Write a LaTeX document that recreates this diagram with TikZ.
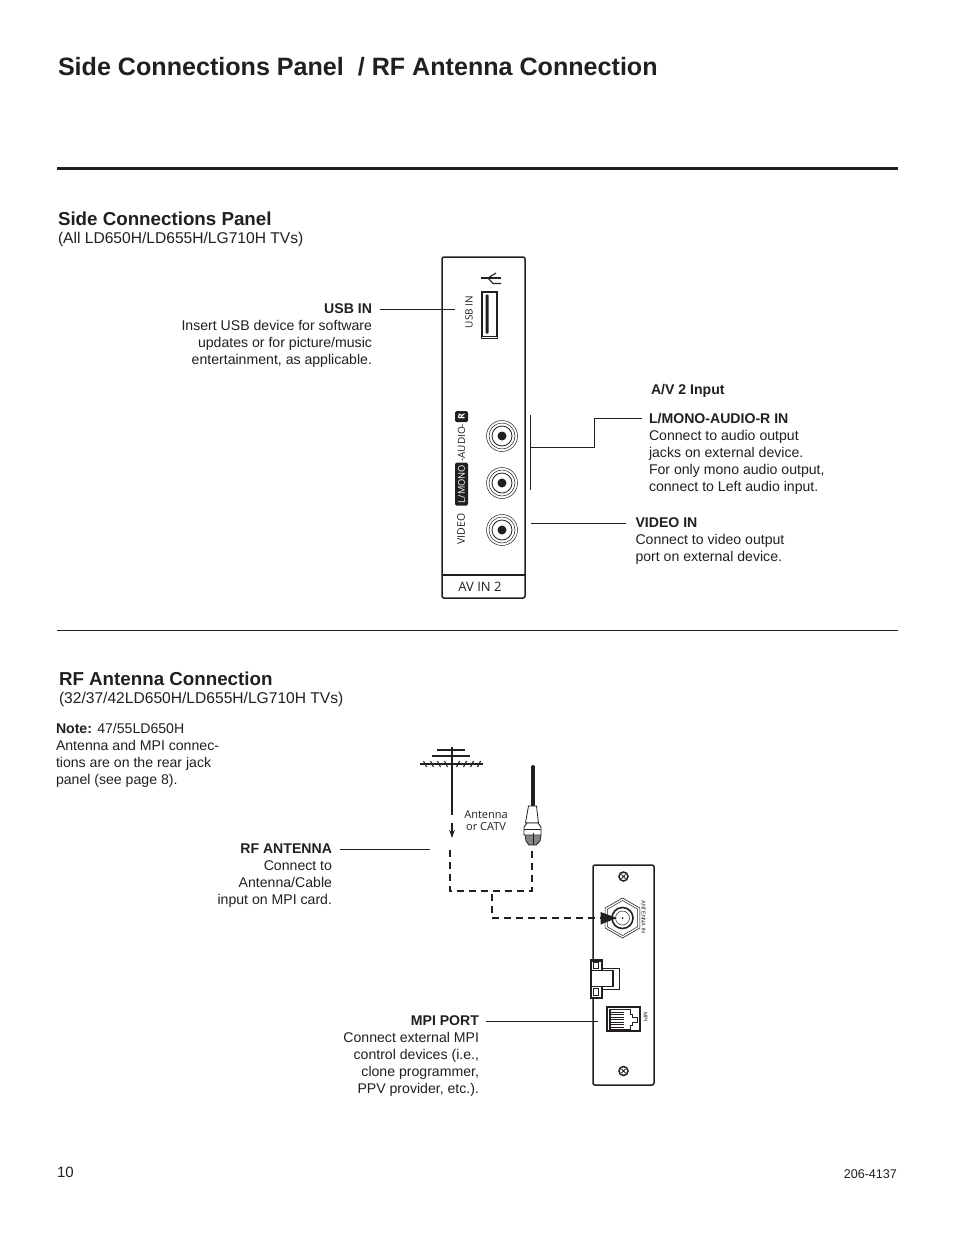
\documentclass[tikz,border=0pt]{standalone}
\usepackage{fontspec}
\setmainfont{Liberation Sans}
\newfontfamily\hum{Open Sans}
\usetikzlibrary{arrows.meta,shapes.geometric}
\definecolor{ink}{HTML}{231F20}
\newcommand{\fs}[1]{\fontsize{#1}{17}\selectfont}
\tikzset{
  x=1pt,y=-1pt,
  every path/.style={color=ink},
  txt/.style={inner sep=0,outer sep=0,text=ink,font=\fs{14.1}},
  rt/.style={txt,align=right,anchor=east},
  lf/.style={txt,align=left,anchor=west},
  head/.style={txt,anchor=west,font=\fs{18.75}\bfseries},
  subhead/.style={txt,anchor=base west,font=\fs{15.6}},
  lead/.style={draw=ink,line width=0.8pt},
  box/.style={draw=ink,line width=1.5pt},
  cable/.style={draw=ink,line width=1.8pt,dash pattern=on 7pt off 5pt},
  micro/.style={inner sep=0,text=ink,font=\hum\fontsize{10}{10}\selectfont},
}
\begin{document}
\begin{tikzpicture}
\useasboundingbox (0,0) rectangle (954,1235);
\fill[white] (0,0) rectangle (954,1235);
\node[txt,anchor=base west,font=\fs{25.1}\bfseries] (title) at (58,75.5) {Side Connections Panel\ \ / RF Antenna Connection};
\draw[draw=ink,line width=3pt] (57,168.5) -- (898,168.5);
\draw[draw=ink,line width=1pt] (57,630.5) -- (898,630.5);

\node[head] (h1) at (58,219) {Side Connections Panel};
\node[subhead] (h1s) at (58,243.5) {(All LD650H/LD655H/LG710H TVs)};
\node[rt] (usb) at (372,335.5) {\textbf{USB IN}\\Insert USB device for software\\updates or for picture/music\\entertainment, as applicable.};
\node[lf] (avh) at (651,391) {\textbf{A/V 2 Input}};
\node[lf] (lmono) at (649,454) {\textbf{L/MONO-AUDIO-R IN}\\Connect to audio output\\jacks on external device.\\For only mono audio output,\\connect to Left audio input.};
\node[lf] (vid) at (635.5,541.5) {\textbf{VIDEO IN}\\Connect to video output\\port on external device.};

% side panel
\draw[box,rounded corners=2pt] (442,257) rectangle (525,598);
\draw[box] (442,575) -- (525,575);
\node[micro,font=\hum\fontsize{13}{13}\selectfont] (avin) at (480,586.5) {AV IN 2};
\node[micro,rotate=90] (usbt) at (469,312) {USB IN};
\draw[draw=ink,line width=0.9pt] (481,291) rectangle (497.5,338);
\draw[draw=ink,line width=0.5pt] (482.5,292.5) rectangle (496,336.5);
\fill[ink,rounded corners=0.8pt] (485.5,294.5) rectangle (488.5,333.5);
% usb symbol
\draw[draw=ink,line width=1.1pt] (481,278) -- (501,278);
\draw[draw=ink,line width=1.1pt] (496,273) -- (488,278) -- (493,283.5) -- (501,283.5);
% jack labels
\node[micro,rotate=90,font=\hum\fontsize{10.5}{10.5}\selectfont] (videot) at (461,529) {VIDEO};
\node[micro,rotate=90,fill=ink,text=white,rounded corners=1.5pt,minimum height=13pt,minimum width=43pt,inner sep=0,font=\hum\fontsize{9.3}{9.3}\selectfont] (mono) at (461.5,484) {L/MONO};
\node[micro,rotate=90,anchor=west] (audio) at (461.5,462) {-AUDIO-};
\node[micro,rotate=90,fill=ink,text=white,rounded corners=1.5pt,minimum height=13pt,minimum width=11pt,inner sep=0,font=\hum\fontsize{9}{9}\selectfont\bfseries] (rr) at (461.5,416.5) {R};
\foreach \n/\y in {ja/436,jb/483,jc/530}{
  \coordinate (\n) at (502,\y);
  \draw[draw=ink,line width=0.5pt] (\n) circle (15.5);
  \draw[draw=ink,line width=0.5pt] (\n) circle (13);
  \draw[draw=ink,line width=0.8pt] (\n) circle (10);
  \fill[ink] (\n) circle (4.5);
}
% leaders, top
\coordinate (usbEnd) at (455,309);
\coordinate (usbStart) at (380,309);
\draw[lead] (usbStart) -- (usbEnd);
\coordinate (brT) at (530.5,415);
\coordinate (brB) at (530.5,490);
\coordinate (brM) at (530.5,447);
\coordinate (brE) at (642,418);
\draw[lead] (brT) -- (brB);
\draw[lead] (brM) -- (594.5,447) -- (594.5,418) -- (brE);
\coordinate (vidA) at (531,523);
\coordinate (vidB) at (626,523);
\draw[lead] (vidA) -- (vidB);

% RF section
\node[head] (h2) at (59,679) {RF Antenna Connection};
\node[subhead] (h2s) at (59,703.5) {(32/37/42LD650H/LD655H/LG710H TVs)};
\node[lf] (note) at (56,755) {\textbf{Note:} 47/55LD650H\\Antenna and MPI connec-\\tions are on the rear jack\\panel (see page 8).};
\node[rt] (rf) at (332,876) {\textbf{RF ANTENNA}\\Connect to\\Antenna/Cable\\input on MPI card.};
\node[rt] (mpi) at (479,1056.5) {\textbf{MPI PORT}\\Connect external MPI\\control devices (i.e.,\\clone programmer,\\PPV provider, etc.).};
\node[txt,anchor=base west] (pg) at (57,1177) {\fontsize{15}{17}\selectfont 10};
\node[txt,anchor=base east,font=\fs{12.6}] (code) at (897,1178.5) {206-4137};
\node[micro,align=center,font=\hum\fontsize{11}{12}\selectfont] (cat) at (486,821) {Antenna\\or CATV};

% antenna
\draw[draw=ink,line width=1.2pt] (452,747) -- (452,815);
\draw[draw=ink,line width=1.1pt] (437,750) -- (465,750);
\draw[draw=ink,line width=1.1pt] (432,756) -- (470,756);
\draw[draw=ink,line width=1.1pt] (420,764) -- (483,764);
\foreach \x in {425,432,439,446}{
  \draw[draw=ink,line width=1.1pt] (\x-1.5,761) -- (\x+1.5,767);
}
\foreach \x in {458,465,472,479}{
  \draw[draw=ink,line width=1.1pt] (\x+1.5,761) -- (\x-1.5,767);
}
\coordinate (arA) at (452,823);
\coordinate (arB) at (452,838);
\draw[draw=ink,line width=1.2pt,-{Stealth[length=8pt,width=5.5pt]}] (arA) -- (arB);

% coax
\draw[draw=ink,line width=4pt,line cap=round] (533,767) -- (533,806);
\draw[draw=ink,line width=0.8pt,fill=white] (528.5,806) -- (536.5,806) -- (538.5,823) -- (525.5,823) -- cycle;
\fill[ink!55] (525,835) -- (541,835) -- (540,841) -- (536,845) -- (529,845) -- (526,841) -- cycle;
\draw[draw=ink,line width=0.8pt] (525,835) -- (526,841) -- (529,845) -- (536,845) -- (540,841) -- (541,835);
\draw[draw=ink,line width=0.9pt,fill=white] (524,827) -- (527,823) -- (538,823) -- (541,827) -- (541,835) -- (524,835) -- cycle;
\draw[draw=ink,line width=0.7pt] (524,829.5) -- (541,829.5);
\draw[draw=ink,line width=1pt] (533,833) -- (533,845);

% dashed cable
\coordinate (dA) at (450,850);
\coordinate (dB) at (450,891);
\coordinate (dC) at (532,891);
\coordinate (dD) at (532,850);
\draw[cable] (dA) -- (dB) -- (dC) -- (dD);
\coordinate (dE) at (492,894);
\coordinate (dF) at (492,918);
\coordinate (dG) at (602,918);
\draw[cable] (dE) -- (dF) -- (dG);

% MPI panel
\draw[box,rounded corners=2pt] (593,865) rectangle (654,1085);
\foreach \n/\y in {sa/876.5,sb/1071}{
  \coordinate (\n) at (623.5,\y);
  \draw[draw=ink,line width=1.5pt] (\n) circle (4.5);
  \draw[draw=ink,line width=1pt] (621.5,\y-2) -- (625.5,\y+2) (621.5,\y+2) -- (625.5,\y-2);
}
\node[draw=ink,line width=0.6pt,regular polygon,regular polygon sides=6,shape border rotate=30,minimum size=40pt,inner sep=0] (nut) at (622.5,918) {};
\node[draw=ink,line width=0.5pt,regular polygon,regular polygon sides=6,shape border rotate=30,minimum size=35pt,inner sep=0] (nut2) at (622.5,918) {};
\draw[draw=ink,line width=1.6pt] (nut) circle (10.5);
\draw[draw=ink,line width=0.5pt] (nut) circle (7);
\fill[ink] (nut) circle (1);
\fill[ink] (600.5,912) -- (617,918) -- (600.5,924.5) -- cycle;
\node[micro,rotate=-90,font=\fs{5.5}] (ant) at (643.5,917) {ANTENNA IN};
\node[micro,rotate=-90,font=\fs{5.5}] (mpt) at (645.5,1017) {MPI};

% clip
\draw[draw=ink,line width=0.7pt,fill=white] (602,968) rectangle (619,989);
\draw[draw=ink,line width=1.5pt,fill=white] (591,960) rectangle (602,998);
\fill[ink] (591,959) rectangle (602,961.5);
\fill[ink] (591,996.5) rectangle (602,999);
\draw[draw=ink,line width=1.5pt,fill=white] (591,970.5) rectangle (613,986.5);
\draw[draw=ink,line width=0.6pt] (593,962.5) rectangle (598,968.5);
\draw[draw=ink,line width=0.6pt] (593,988.5) rectangle (598,995);

% RJ port
\draw[draw=ink,line width=2pt] (607,1007) rectangle (640,1031);
\draw[draw=ink,line width=0.7pt] (609.5,1009.5) -- (630,1009.5) -- (630,1014) -- (632,1014) -- (632,1017) -- (637,1017) -- (637,1022) -- (632,1022) -- (632,1025) -- (630,1025) -- (630,1029) -- (609.5,1029) -- cycle;
\draw[draw=ink,line width=1.2pt] (610.5,1010) -- (610.5,1028.5);
\foreach \y in {1012,1014.5,1017,1019.5,1022,1024.5,1027}{
  \draw[draw=ink,line width=0.6pt] (610,\y) -- (624,\y);
}

% leaders, bottom
\coordinate (rfA) at (340,849);
\coordinate (rfB) at (430,849);
\draw[lead] (rfA) -- (rfB);
\coordinate (mpA) at (486,1021);
\coordinate (mpB) at (598,1021);
\draw[lead] (mpA) -- (mpB);
\end{tikzpicture}
\end{document}
